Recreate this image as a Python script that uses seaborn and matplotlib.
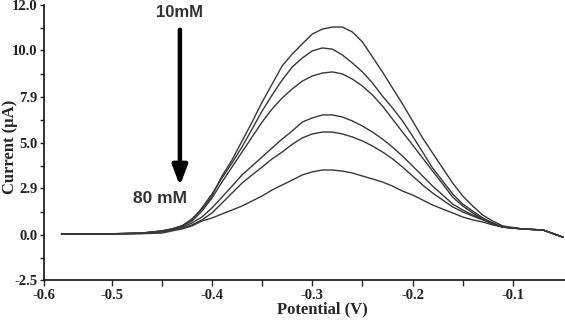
import numpy as np
import pandas as pd
import matplotlib
matplotlib.use("Agg")
import matplotlib.pyplot as plt
import seaborn as sns
from matplotlib.ticker import FixedLocator

# potential grid (V) and current readings (uA) for each concentration
potential = [-0.55, -0.51, -0.47,
             -0.45, -0.44, -0.43, -0.42, -0.41, -0.40, -0.39, -0.38, -0.37, -0.36,
             -0.35, -0.34, -0.33, -0.32, -0.31, -0.30, -0.29, -0.28, -0.27, -0.26,
             -0.25, -0.24, -0.23, -0.22, -0.21, -0.20, -0.19, -0.18, -0.17, -0.16,
             -0.15, -0.14, -0.13, -0.12, -0.11,
             -0.09, -0.07, -0.05]
c10 = [0.05, 0.06, 0.12,
       0.25, 0.37, 0.56, 0.99, 1.60, 2.41, 3.46, 4.21, 5.13, 6.32,
       7.58, 8.48, 9.29, 9.82, 10.27, 10.71, 10.93, 11.02, 11.02, 10.80,
       10.36, 9.69, 9.02, 8.30, 7.46, 6.39, 5.32, 4.53, 3.83, 3.13,
       2.41, 1.79, 1.23, 0.86, 0.56,
       0.37, 0.31, -0.12]
c20 = [0.05, 0.06, 0.12,
       0.25, 0.37, 0.56, 0.93, 1.67, 2.53, 3.37, 4.07, 4.82, 5.88,
       7.02, 7.99, 8.66, 9.24, 9.64, 9.96, 10.09, 10.04, 9.78, 9.42,
       9.02, 8.53, 7.94, 7.21, 6.39, 5.44, 4.58, 3.83, 3.23, 2.53,
       1.91, 1.48, 1.05, 0.74, 0.49,
       0.37, 0.31, -0.12]
c40 = [0.05, 0.06, 0.12,
       0.25, 0.37, 0.56, 0.86, 1.48, 2.28, 3.18, 3.88, 4.58, 5.38,
       6.32, 7.15, 7.84, 8.26, 8.61, 8.84, 8.97, 9.02, 8.93, 8.70,
       8.39, 7.99, 7.33, 6.51, 5.69, 4.91, 4.30, 3.69, 3.09, 2.34,
       1.79, 1.36, 0.99, 0.68, 0.49,
       0.37, 0.31, -0.12]
c50 = [0.05, 0.06, 0.10,
       0.19, 0.31, 0.49, 0.74, 1.11, 1.67, 2.34, 2.99, 3.51, 3.93,
       4.35, 4.77, 5.25, 5.76, 6.32, 6.58, 6.77, 6.77, 6.64, 6.39,
       6.07, 5.69, 5.25, 4.81, 4.39, 3.93, 3.46, 2.99, 2.47, 1.91,
       1.54, 1.23, 0.99, 0.74, 0.49,
       0.37, 0.31, -0.12]
c60 = [0.05, 0.06, 0.10,
       0.19, 0.31, 0.43, 0.62, 0.93, 1.36, 1.97, 2.59, 3.13, 3.51,
       3.88, 4.26, 4.58, 4.94, 5.32, 5.57, 5.69, 5.69, 5.57, 5.38,
       5.13, 4.86, 4.58, 4.26, 3.88, 3.46, 3.04, 2.59, 2.16, 1.73,
       1.42, 1.17, 0.93, 0.68, 0.49,
       0.37, 0.31, -0.12]
c80 = [0.05, 0.06, 0.08,
       0.12, 0.25, 0.37, 0.56, 0.86, 1.05, 1.30, 1.54, 1.79, 2.10,
       2.41, 2.78, 3.04, 3.27, 3.51, 3.65, 3.74, 3.74, 3.69, 3.60,
       3.46, 3.32, 3.18, 2.99, 2.71, 2.47, 2.16, 1.85, 1.60, 1.36,
       1.11, 0.93, 0.80, 0.62, 0.49,
       0.37, 0.31, -0.12]
series = {"10 mM": c10, "20 mM": c20, "40 mM": c40, "50 mM": c50, "60 mM": c60, "80 mM": c80}

# odd y axis of the original: evenly spaced ticks with these labels
ytick_vals = [-2.5, 0.0, 2.9, 5.0, 7.9, 10.0, 12.0]
ytick_pos = [0, 45, 92, 137, 183, 230, 275]
xtick_vals = [-0.5675, -0.5, -0.4, -0.3, -0.2, -0.1]
xtick_labels = ["-0.6", "-0.5", "-0.4", "-0.3", "-0.2", "-0.1"]

df = pd.DataFrame([
    {"potential": p, "current": c, "conc": name}
    for name, vals in series.items() for p, c in zip(potential, vals)
])

yv = np.array([-1000.0] + ytick_vals + [1000.0])
s0 = (ytick_pos[1] - ytick_pos[0]) / (ytick_vals[1] - ytick_vals[0])
s1 = (ytick_pos[-1] - ytick_pos[-2]) / (ytick_vals[-1] - ytick_vals[-2])
yp = np.array([ytick_pos[0] - s0 * (ytick_vals[0] + 1000)] + ytick_pos
              + [ytick_pos[-1] + s1 * (1000 - ytick_vals[-1])])


def fwd(v):
    return np.interp(np.asarray(v, float), yv, yp)


def inv(p):
    return np.interp(np.asarray(p, float), yp, yv)


sns.set_style("ticks")
serif = ["Liberation Serif", "DejaVu Serif"]
sans = ["Liberation Sans", "DejaVu Sans"]

fig = plt.figure(figsize=(5.65, 3.23), dpi=100)
ax = fig.add_axes([44 / 565, 43 / 323, 1 - 44 / 565, 275 / 323])
ax.set_yscale("function", functions=(fwd, inv))

sns.lineplot(data=df, x="potential", y="current", hue="conc",
             palette=["#383838"] * len(series), legend=False, ax=ax,
             estimator=None, sort=False, lw=1.0)

ax.set_xlim(-0.5675, -0.048)
ax.set_ylim(-2.5, 12.0)

ax.yaxis.set_major_locator(FixedLocator(ytick_vals))
ax.set_yticklabels([f"{v:.1f}" for v in ytick_vals])
mid = [(a + b) / 2 for a, b in zip(ytick_pos[:-1], ytick_pos[1:])]
ax.yaxis.set_minor_locator(FixedLocator(list(inv(mid))))
ax.xaxis.set_major_locator(FixedLocator(xtick_vals))
ax.set_xticklabels(xtick_labels)
ax.xaxis.set_minor_locator(FixedLocator([-0.45, -0.35, -0.25, -0.15]))

for lab in ax.get_xticklabels() + ax.get_yticklabels():
    lab.set_fontfamily(serif)
    lab.set_fontweight("bold")
    lab.set_fontsize(10.5)
    lab.set_color("#222222")

ax.tick_params(axis="x", which="both", direction="out", length=4, width=1.0, pad=2.5)
ax.tick_params(axis="y", which="both", direction="out", length=3, width=1.0, pad=1.5)

sns.despine(ax=ax)
for sp in ["left", "bottom"]:
    ax.spines[sp].set_linewidth(1.2)
    ax.spines[sp].set_color("#111111")

ax.set_xlabel("Potential (V)", fontfamily=serif, fontweight="bold", fontsize=12)
ax.set_ylabel("Current (µA)", fontfamily=serif, fontweight="bold", fontsize=12)
ax.xaxis.set_label_coords(0.535, -0.078)
ax.yaxis.set_label_coords(-0.05, 0.484)

# concentration arrow
ax.annotate("", xy=(-0.432, 3.0), xytext=(-0.432, 10.9),
            arrowprops=dict(arrowstyle="-|>,head_width=0.45,head_length=1.2",
                            lw=3.2, color="black", shrinkA=0, shrinkB=0))
ax.text(-0.432, 11.67, "10mM", ha="center", va="center", fontfamily=sans,
        fontweight="bold", fontsize=12, color="#333333")
ax.text(-0.452, 2.28, "80 mM", ha="center", va="center", fontfamily=sans,
        fontweight="bold", fontsize=12.5, color="#333333")

fig.savefig("out.png", dpi=100)
